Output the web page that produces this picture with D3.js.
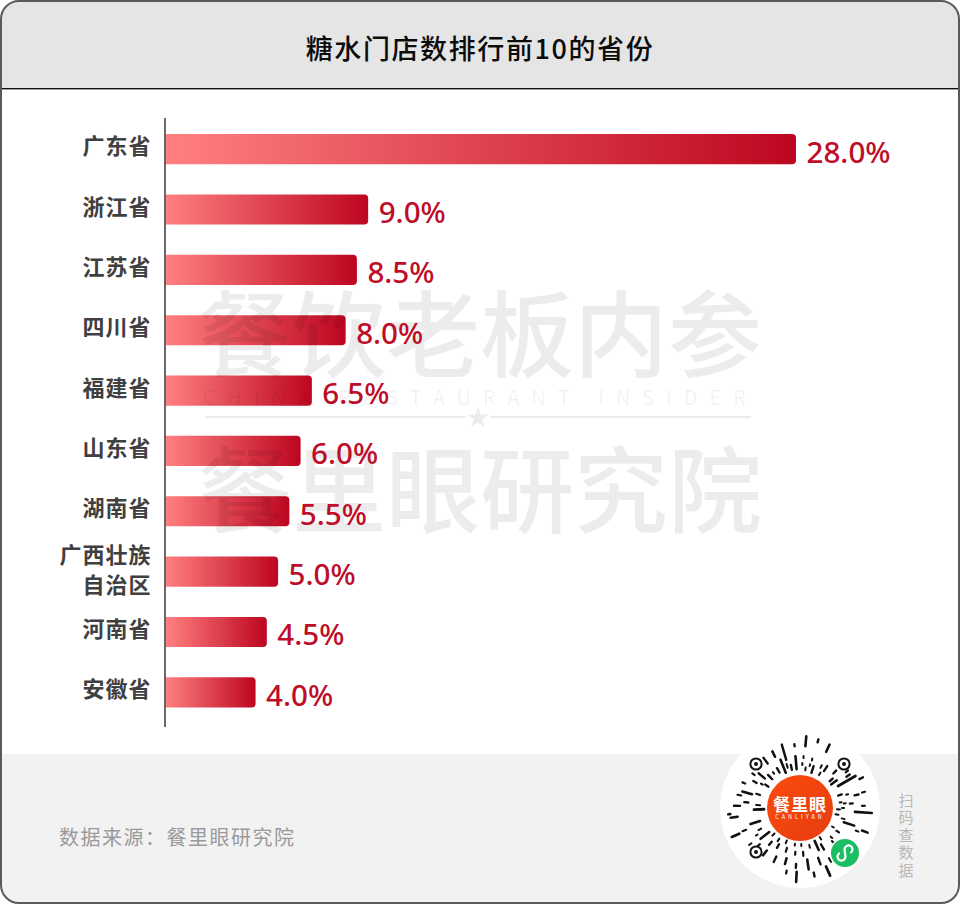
<!DOCTYPE html>
<html lang="zh">
<head>
<meta charset="utf-8">
<script src="https://cdn.jsdelivr.net/npm/d3@7/dist/d3.min.js"></script>
<style>
html,body{margin:0;padding:0;background:#fff}
svg{display:block}
text{font-family:"Noto Sans CJK SC","Noto Sans",sans-serif}
</style>
</head>
<body>
<svg id="c" width="960" height="904" viewBox="0 0 960 904"></svg>
<script>
const titleText = "糖水门店数排行前10的省份";
const sourceText = "数据来源：餐里眼研究院";
const scanChars = ["扫","码","查","数","据"];
const provinces = ["广东省","浙江省","江苏省","四川省","福建省","山东省","湖南省","广西壮族自治区","河南省","安徽省"];
const shares = [28.0,9.0,8.5,8.0,6.5,6.0,5.5,5.0,4.5,4.0];
const wmLine1 = "餐饮老板内参";
const wmLine2 = "CHINA RESTAURANT INSIDER";
const wmLine3 = "餐里眼研究院";
// mini-program code rays: [angle from top in degrees, inner radius, outer radius, stroke width]
const qrRays = [
[5,62,72,2.6],[15,68,71,2.4],[25,62,70,2.6],[-5,62,64,2.4],[-16,50,66,2.4],[-26,57,63,2.6],[-36,55,62,2.4],
[-5,39,52,2.6],[4,50,52,2],[3,43,45,2],[8,38,41,2],[14,49,51,2],[13,43,45,2],[18,37,44,2.4],[33,44,50,2.4],[27,45,48,2],[30,38,41,2],
[-12,39,44,2.4],[-17,42,46,2],[-22,38,52,2.6],[-30,41,46,2.4],[-37,43,45,2],[-44,40,46,2.4],
[44,48,52,2.4],[48,40,44,2.4],[53,39,46,2.4],[60,44,64,2.8],[56,56,60,2.4],[64,66,70,2.4],[52,58,61,2.2],
[-50,46,54,2.4],[-56,38,42,2.2],[-60,50,54,2.2],[-66,60,63,2.2],[-58,44,46,2],[-54,56,59,2],
[72,40,44,2.2],[74,48,50,2],[77,56,60,2.4],[76,64,67,2.2],[82,40,42,2],[84,44,46,2],[85,50,53,2.2],[88,62,65,2.2],
[-72,42,46,2.2],[-74,50,60,2.6],[-78,60,64,2],[-84,52,56,2.4],[-88,60,66,2.4],[-86,40,44,2],
[92,37,40,2],[90,42,44,2],[94,55,72,2.6],[100,36,39,2],[104,43,46,2],[108,46,57,2.6],[112,60,63,2],[110,66,72,2.6],
[-92,36,46,2.8],[-95,70,72,2.6],[-98,63,70,2.6],[-108,42,52,2.6],[-112,58,62,2],[-113,66,74,2.8],[-118,44,47,2],[-122,50,52,2],
[120,37,39,2],[122,43,46,2.2],[128,54,56,2],[133,42,44,2],[136,46,49,2.2],[146,35,38,2],[150,42,48,2.4],[156,36,46,2.6],
[-128,39,50,2.6],[-132,54,57,2.2],[-135,36,39,2],[-126,60,63,2],[-140,44,48,2.4],[-142,54,60,2.6],[-146,37,40,2],
[-150,42,46,2.4],[-154,54,60,2.4],[-158,35,38,2],[-162,42,46,2.2],[-165,52,58,2.6],[-168,64,67,2.2],[-172,36,38,2],[-174,44,47,2.2],[-176,56,60,2.4],[-177,64,74,2.6],
[178,36,38,2],[176,44,48,2.2],[172,52,62,2.6],[168,66,70,2.4],[166,38,41,2],[160,53,60,2.4],[156,64,74,2.8],[150,58,62,2.2]
];

const svg = d3.select("#c");
const W = 960, H = 904;
const defs = svg.append("defs");

const grad = defs.append("linearGradient").attr("id","barGrad");
grad.append("stop").attr("offset","0%").attr("stop-color","#ff8080");
grad.append("stop").attr("offset","100%").attr("stop-color","#bd0620");

const frameClip = defs.append("clipPath").attr("id","frame");
frameClip.append("rect").attr("x",1).attr("y",1).attr("width",W-2).attr("height",H-2).attr("rx",18);

const body = svg.append("g").attr("clip-path","url(#frame)");
body.append("rect").attr("width",W).attr("height",H).attr("fill","#fff");
body.append("rect").attr("width",W).attr("height",88).attr("fill","#e5e5e5");
body.append("rect").attr("y",88).attr("width",W).attr("height",1.4).attr("fill","#111");
body.append("rect").attr("y",754).attr("width",W).attr("height",H-754).attr("fill","#f2f2f2");

svg.append("text").attr("x",480).attr("y",47).attr("text-anchor","middle").attr("dominant-baseline","central")
  .attr("font-size",27).attr("font-weight",500).attr("letter-spacing",1.6).attr("fill","#0c0c0c").text(titleText);

const x = d3.scaleLinear().domain([0,28]).range([165.5,796]);
const y = d3.scaleBand().domain(provinces).range([119,722.5]).paddingInner(0.5).paddingOuter(0.25);

const rowH = y.bandwidth();
const bars = svg.append("g");
bars.selectAll("path").data(provinces).join("path")
  .attr("fill","url(#barGrad)")
  .attr("d",(p,i)=>{
    const x0=x(0), x1=x(shares[i]), y0=y(p), y1=y0+rowH, r=4;
    return `M${x0},${y0}H${x1-r}Q${x1},${y0} ${x1},${y0+r}V${y1-r}Q${x1},${y1} ${x1-r},${y1}H${x0}Z`;
  });

const yAxis = svg.append("g").attr("transform",`translate(${x(0)-1},0)`)
  .call(d3.axisLeft(y).tickSize(0).tickPadding(13));
yAxis.select(".domain").remove();
svg.append("line").attr("x1",x(0)-0.5).attr("x2",x(0)-0.5).attr("y1",118).attr("y2",727).attr("stroke","#444").attr("stroke-width",1.6);
yAxis.selectAll(".tick text").each(function(p){
  const t = d3.select(this).text(null).attr("font-size",22).attr("font-weight",700)
    .attr("fill","#404040").attr("letter-spacing",1).attr("dominant-baseline","central").attr("dy",null);
  if(p.length>4){
    t.append("tspan").attr("x",-13).attr("y",-19).text(p.slice(0,4));
    t.append("tspan").attr("x",-13).attr("y",11).text(p.slice(4));
  } else {
    t.append("tspan").attr("x",-13).attr("y",-5).text(p);
  }
});

// watermark
const wm = svg.append("g").style("pointer-events","none");
const wmColor = "rgba(0,0,0,0.075)";
wm.append("text").attr("x",480).attr("y",329).attr("text-anchor","middle").attr("dominant-baseline","central")
  .attr("font-size",94).attr("font-weight",500).attr("fill",wmColor).text(wmLine1);
wm.append("text").attr("x",480).attr("y",396).attr("text-anchor","middle").attr("dominant-baseline","central")
  .attr("font-size",20).attr("letter-spacing",11.9).attr("fill","rgba(0,0,0,0.06)").text(wmLine2);
wm.append("rect").attr("x",205).attr("y",416).attr("width",261).attr("height",2).attr("fill",wmColor);
wm.append("rect").attr("x",491).attr("y",416).attr("width",260).attr("height",2).attr("fill",wmColor);
wm.append("path").attr("transform","translate(478,418)").attr("fill",wmColor)
  .attr("d",d3.symbol(d3.symbolStar,150)());
wm.append("text").attr("x",480).attr("y",485).attr("text-anchor","middle").attr("dominant-baseline","central")
  .attr("font-size",94).attr("font-weight",500).attr("fill",wmColor).text(wmLine3);

// value labels
svg.append("g").selectAll("text").data(provinces).join("text")
  .attr("x",(p,i)=>x(shares[i])+10.5)
  .attr("y",p=>y(p)+rowH/2+2)
  .attr("dominant-baseline","central")
  .style("font-family",'"Noto Sans",sans-serif')
  .attr("font-size",29.6).attr("font-weight",500).attr("fill","#bd0d28")
  .text((p,i)=>shares[i].toFixed(1)+"%");

// footer
svg.append("text").attr("x",59).attr("y",836).attr("dominant-baseline","central")
  .attr("font-size",20).attr("letter-spacing",1.5).attr("fill","#9a9a9a").text(sourceText);
svg.append("g").selectAll("text").data(scanChars).join("text")
  .attr("x",906).attr("y",(d,i)=>799+i*17.6).attr("text-anchor","middle").attr("dominant-baseline","central")
  .attr("font-size",15).attr("fill","#b8b8b8").text(d=>d);

// mini-program code
const qr = svg.append("g").attr("transform","translate(800,808)");
qr.append("circle").attr("r",80).attr("fill","#fff");
const pol = (a,r)=>[r*Math.sin(a*Math.PI/180), -r*Math.cos(a*Math.PI/180)];
qr.append("g").selectAll("line").data(qrRays).join("line")
  .attr("x1",d=>pol(d[0],d[1])[0]).attr("y1",d=>pol(d[0],d[1])[1])
  .attr("x2",d=>pol(d[0],d[2])[0]).attr("y2",d=>pol(d[0],d[2])[1])
  .attr("stroke","#111").attr("stroke-width",d=>d[3]).attr("stroke-linecap","round");
[[-44,-44],[44,-44],[-44,44]].forEach(([a,b])=>{
  qr.append("circle").attr("cx",a).attr("cy",b).attr("r",5.6).attr("fill","#fff").attr("stroke","#111").attr("stroke-width",2);
  qr.append("circle").attr("cx",a).attr("cy",b).attr("r",2).attr("fill","#111");
});
const og = defs.append("linearGradient").attr("id","orangeGrad").attr("x1","0").attr("y1","0").attr("x2","1").attr("y2","1");
og.append("stop").attr("offset","0%").attr("stop-color","#fb4a0c");
og.append("stop").attr("offset","100%").attr("stop-color","#e63d10");
qr.append("circle").attr("r",33).attr("fill","url(#orangeGrad)");
qr.append("text").attr("y",-5).attr("text-anchor","middle").attr("dominant-baseline","central")
  .attr("font-size",17).attr("font-weight",700).attr("letter-spacing",1).attr("fill","#fff").text("餐里眼");
qr.append("text").attr("y",8.5).attr("text-anchor","middle").attr("dominant-baseline","central")
  .attr("font-size",5.5).attr("letter-spacing",3).attr("fill","#fff").text("CANLIYAN");
const mini = qr.append("g").attr("transform","translate(45,45)");
mini.append("circle").attr("r",15.5).attr("fill","#fff");
mini.append("circle").attr("r",14).attr("fill","#1bbf63");
mini.append("path").attr("fill","none").attr("stroke","#fff").attr("stroke-width",2.2).attr("stroke-linecap","round")
  .attr("d","M6,-0.5A4,4 0 1 0 -0.5,-3.5L0.5,3.5A4,4 0 1 1 -6,0.5");

// outer frame
svg.append("rect").attr("x",1).attr("y",1).attr("width",W-2).attr("height",H-2).attr("rx",18)
  .attr("fill","none").attr("stroke","#5a5a5a").attr("stroke-width",2);
</script>
</body>
</html>
